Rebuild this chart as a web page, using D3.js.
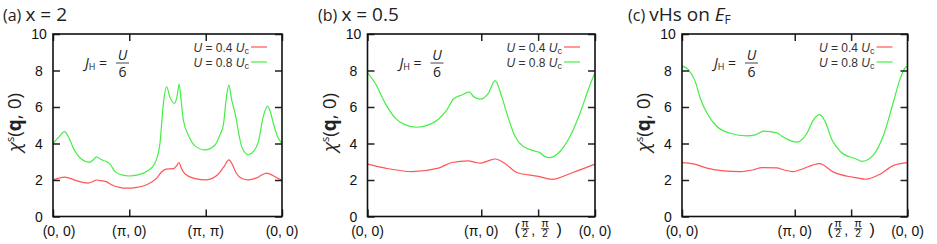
<!DOCTYPE html>
<html>
<head>
<meta charset="UTF-8">
<title>spin susceptibility along symmetry lines</title>
<script src="https://cdn.jsdelivr.net/npm/d3@7"></script>
<style>
  body { margin:0; background:#fff; }
  svg { display:block; font-family:"Liberation Sans", Arial, sans-serif; }
  .txt { font-family:"Open Sans", "Noto Sans", sans-serif; fill:#222; }
  .tick line { stroke:#222; stroke-width:1.5; }
  .domain { display:none; }
</style>
</head>
<body>
<svg id="viz" width="937" height="244"></svg>
<script>
// values shared by the three panels
var yTicks = [0, 2, 4, 6, 8, 10];

// (a) x = 2 , path (0,0) -> (pi,0) -> (pi,pi) -> (0,0)
var aTicks = [0, 0.333, 0.667, 1];
var aLabels = ["(0, 0)", "(π, 0)", "(π, π)", "(0, 0)"];
var aGreen = [[0,4.0],[0.025,4.35],[0.05,4.65],[0.07,4.3],[0.089,3.74],[0.125,3.14],[0.159,2.97],
  [0.175,3.1],[0.19,3.27],[0.21,3.12],[0.234,3.0],[0.249,2.87],[0.271,2.46],[0.3,2.28],[0.333,2.22],
  [0.37,2.28],[0.409,2.46],[0.445,2.92],[0.467,4.0],[0.482,6.2],[0.496,7.1],[0.512,6.5],[0.53,6.2],
  [0.542,6.6],[0.551,7.25],[0.56,6.3],[0.569,5.3],[0.591,4.47],[0.62,3.87],[0.664,3.65],[0.707,3.92],
  [0.73,4.5],[0.744,5.02],[0.758,6.6],[0.768,7.2],[0.78,6.4],[0.795,5.66],[0.824,3.83],[0.853,3.38],
  [0.875,3.55],[0.897,4.1],[0.918,5.47],[0.937,6.05],[0.95,5.7],[0.962,5.11],[0.98,4.4],[1,4.0]];
var aRed = [[0,2.0],[0.025,2.1],[0.052,2.16],[0.09,2.02],[0.125,1.88],[0.154,1.83],[0.175,1.92],
  [0.19,2.0],[0.215,1.95],[0.234,1.9],[0.256,1.74],[0.29,1.6],[0.322,1.55],[0.36,1.58],[0.409,1.74],
  [0.453,2.1],[0.475,2.45],[0.495,2.6],[0.525,2.62],[0.541,2.8],[0.55,2.96],[0.562,2.6],[0.576,2.34],
  [0.62,2.08],[0.67,2.01],[0.72,2.3],[0.745,2.7],[0.768,3.1],[0.785,2.8],[0.8,2.38],[0.825,2.08],
  [0.853,2.01],[0.89,2.12],[0.933,2.38],[0.96,2.25],[0.98,2.1],[1,2.0]];

// (b) x = 0.5 , path (0,0) -> (pi,0) -> (pi/2,pi/2) -> (0,0)
var bTicks = [0, 0.5, 0.75, 1];
var bLabels = ["(0, 0)", "(π, 0)", "half", "(0, 0)"];
var bGreen = [[0,7.88],[0.034,7.3],[0.078,6.2],[0.122,5.39],[0.166,5.02],[0.217,4.89],[0.268,5.02],
  [0.312,5.33],[0.349,5.84],[0.378,6.44],[0.415,6.66],[0.447,6.83],[0.466,6.57],[0.495,6.43],
  [0.531,6.75],[0.561,7.44],[0.59,6.57],[0.619,5.39],[0.649,4.38],[0.685,3.83],[0.744,3.56],
  [0.758,3.5],[0.78,3.28],[0.802,3.23],[0.846,3.56],[0.89,4.38],[0.934,5.66],[0.978,7.21],[1,7.88]];
var bRed = [[0,2.87],[0.078,2.65],[0.195,2.46],[0.312,2.65],[0.371,2.96],[0.444,3.05],[0.47,2.98],
  [0.495,2.92],[0.53,3.05],[0.561,3.15],[0.61,2.85],[0.656,2.41],[0.751,2.2],[0.81,2.03],[0.9,2.4],[1,2.87]];

// (c) vHs on E_F , same path as (b)
var cTicks = [0, 0.5, 0.75, 1];
var cLabels = ["(0, 0)", "(π, 0)", "half", "(0, 0)"];
var cGreen = [[0,8.25],[0.029,8.03],[0.059,7.39],[0.081,6.48],[0.111,5.66],[0.155,4.93],[0.214,4.56],
  [0.288,4.42],[0.325,4.47],[0.362,4.68],[0.421,4.58],[0.443,4.4],[0.472,4.2],[0.51,4.07],[0.554,4.56],
  [0.583,5.29],[0.61,5.58],[0.635,5.2],[0.665,4.2],[0.702,3.56],[0.754,3.23],[0.768,3.18],[0.798,3.02],
  [0.849,3.38],[0.894,4.47],[0.938,6.3],[0.968,7.57],[0.99,8.16],[1,8.25]];
var cRed = [[0,2.95],[0.051,2.88],[0.111,2.65],[0.184,2.5],[0.259,2.46],[0.317,2.56],[0.355,2.68],
  [0.421,2.66],[0.45,2.56],[0.494,2.46],[0.524,2.56],[0.61,2.9],[0.672,2.43],[0.739,2.19],[0.776,2.12],
  [0.813,2.04],[0.879,2.32],[0.938,2.8],[1,2.95]];

var legendNames = ["0.4", "0.8"];
var red = "#ff5555", green = "#44ee44";

var svg = d3.select("#viz");
var yTop = 34, yBot = 216.5;

var panels = [
  {left:53, right:282, tag:"(a)", title:"x = 2", green:aGreen, red:aRed, ticks:aTicks, labels:aLabels, shift0:6, tx:3},
  {left:367.5, right:595, tag:"(b)", title:"x = 0.5", green:bGreen, red:bRed, ticks:bTicks, labels:bLabels, shift0:0, tx:318},
  {left:682, right:907.5, tag:"(c)", title:"vHs on ", green:cGreen, red:cRed, ticks:cTicks, labels:cLabels, shift0:0, tx:628}
];

panels.forEach(function(p, pi) {
  var x = d3.scaleLinear().domain([0, 1]).range([p.left, p.right]);
  var y = d3.scaleLinear().domain([0, 10]).range([yBot, yTop]);
  var g = svg.append("g");

  var line = d3.line()
    .x(function(d) { return x(d[0]); })
    .y(function(d) { return y(d[1]); })
    .curve(d3.curveMonotoneX);

  g.append("path").datum(p.red).attr("d", line)
    .attr("fill", "none").attr("stroke", red).attr("stroke-width", 1.2);
  g.append("path").datum(p.green).attr("d", line)
    .attr("fill", "none").attr("stroke", green).attr("stroke-width", 1.2);

  // inward ticks on all four sides
  g.append("g").attr("transform", "translate(" + p.left + ",0)")
    .call(d3.axisRight(y).tickValues(yTicks).tickSize(7).tickFormat(""));
  g.append("g").attr("transform", "translate(" + p.right + ",0)")
    .call(d3.axisLeft(y).tickValues(yTicks).tickSize(7).tickFormat(""));
  g.append("g").attr("transform", "translate(0," + yBot + ")")
    .call(d3.axisTop(x).tickValues(p.ticks).tickSize(7).tickFormat(""));
  g.append("g").attr("transform", "translate(0," + yTop + ")")
    .call(d3.axisBottom(x).tickValues(p.ticks).tickSize(7).tickFormat(""));

  g.append("rect")
    .attr("x", p.left).attr("y", yTop)
    .attr("width", p.right - p.left).attr("height", yBot - yTop)
    .attr("fill", "none").attr("stroke", "#111").attr("stroke-width", 1.6);

  // y tick labels
  g.selectAll(".yl").data(yTicks).enter().append("text")
    .attr("class", "yl")
    .attr("x", p.left - 14).attr("y", function(d) { return y(d); })
    .attr("dy", "0.36em").attr("text-anchor", "middle")
    .attr("font-size", 14).attr("fill", "#111")
    .text(function(d) { return d; });

  // x tick labels
  p.ticks.forEach(function(t, i) {
    var lx = x(t) + (i === 0 ? p.shift0 : 0);
    if (p.labels[i] === "half") {
      var h = g.append("g").attr("transform", "translate(" + lx + ",0)").attr("fill", "#111");
      h.append("text").attr("x", -21).attr("y", 235).attr("text-anchor", "middle").attr("font-size", 16).text("(");
      h.append("text").attr("x", 21).attr("y", 235).attr("text-anchor", "middle").attr("font-size", 16).text(")");
      h.append("text").attr("x", -5).attr("y", 235).attr("text-anchor", "middle").attr("font-size", 14).text(",");
      [-13, 7].forEach(function(fx) {
        h.append("text").attr("x", fx).attr("y", 226.5).attr("text-anchor", "middle").attr("font-size", 11).text("π");
        h.append("text").attr("x", fx).attr("y", 237).attr("text-anchor", "middle").attr("font-size", 10).text("2");
        h.append("line").attr("x1", fx - 4).attr("x2", fx + 4).attr("y1", 228.7).attr("y2", 228.7)
          .attr("stroke", "#111").attr("stroke-width", 0.8);
      });
    } else {
      g.append("text").attr("x", lx).attr("y", 236)
        .attr("text-anchor", "middle").attr("font-size", 14).attr("fill", "#111")
        .text(p.labels[i]);
    }
  });

  // y axis title
  var yt = g.append("text").attr("class", "txt")
    .attr("transform", "translate(" + (p.left - 32) + "," + ((yTop + yBot) / 2 - 3) + ") rotate(-90)")
    .attr("text-anchor", "middle").attr("font-size", 19).attr("font-weight", "normal");
  yt.append("tspan").attr("font-style", "italic").text("χ");
  yt.append("tspan").attr("font-size", 11).attr("dy", -7).text("s");
  yt.append("tspan").attr("dy", 7).text("(");
  yt.append("tspan").attr("font-weight", "bold").text("q");
  yt.append("tspan").text(", 0)");

  // panel title
  var tt = g.append("text").attr("class", "txt").attr("x", p.tx).attr("y", 21).attr("font-size", 19);
  tt.append("tspan").attr("font-size", 16).text(p.tag + " ");
  tt.append("tspan").text(p.title);
  if (pi === 2) {
    tt.append("tspan").attr("font-style", "italic").text("E");
    tt.append("tspan").attr("font-size", 12).attr("dy", 3).text("F");
  }

  // J_H = U/6
  var jx = p.left + 32;
  var jt = g.append("text").attr("class", "txt").attr("x", jx).attr("y", 67.5).attr("font-size", 14).attr("fill", "#444");
  jt.append("tspan").attr("font-style", "italic").text("J");
  jt.append("tspan").attr("font-size", 9).attr("dy", 2).text("H");
  jt.append("tspan").attr("dy", -2).text(" =");
  g.append("text").attr("class", "txt").attr("x", jx + 37.5).attr("y", 59.5)
    .attr("text-anchor", "middle").attr("font-size", 14).attr("font-style", "italic").attr("fill", "#444").text("U");
  g.append("text").attr("class", "txt").attr("x", jx + 37.5).attr("y", 77)
    .attr("text-anchor", "middle").attr("font-size", 14).attr("fill", "#444").text("6");
  g.append("line").attr("x1", jx + 31).attr("x2", jx + 44).attr("y1", 63).attr("y2", 63)
    .attr("stroke", "#444").attr("stroke-width", 1);

  // legend
  [red, green].forEach(function(c, k) {
    var ly = 47 + 15 * k;
    var lt = g.append("text").attr("x", p.right - 33).attr("y", ly + 4.5)
      .attr("text-anchor", "end").attr("font-size", 12).attr("fill", "#333");
    lt.append("tspan").attr("font-style", "italic").text("U");
    lt.append("tspan").text(" = " + legendNames[k] + " ");
    lt.append("tspan").attr("font-style", "italic").text("U");
    lt.append("tspan").attr("font-size", 9).attr("dy", 2).text("c");
    g.append("line").attr("x1", p.right - 31).attr("x2", p.right - 15)
      .attr("y1", ly).attr("y2", ly).attr("stroke", c).attr("stroke-width", 1.2);
  });
});
</script>
</body>
</html>
